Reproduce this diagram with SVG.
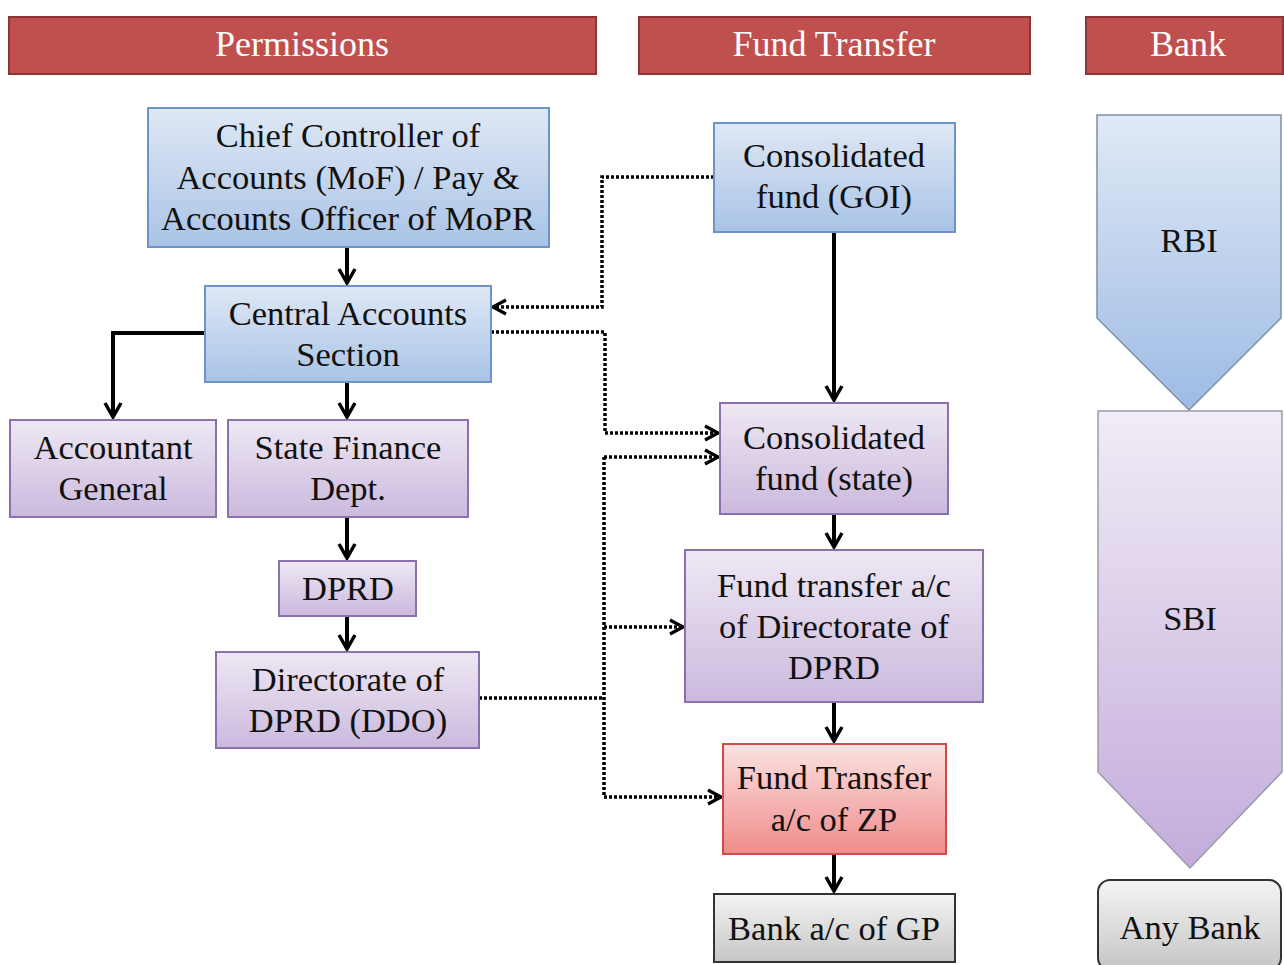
<svg xmlns="http://www.w3.org/2000/svg" width="1284" height="965" viewBox="0 0 1284 965">
<defs>
<linearGradient id="gBlue" x1="0" y1="0" x2="0" y2="1"><stop offset="0" stop-color="#dfe8f5"/><stop offset="1" stop-color="#a9c3e6"/></linearGradient>
<linearGradient id="gPurple" x1="0" y1="0" x2="0" y2="1"><stop offset="0" stop-color="#eee8f3"/><stop offset="1" stop-color="#cbb9de"/></linearGradient>
<linearGradient id="gPink" x1="0" y1="0" x2="0" y2="1"><stop offset="0" stop-color="#fbe2e2"/><stop offset="1" stop-color="#ef8c8a"/></linearGradient>
<linearGradient id="gGray" x1="0" y1="0" x2="0" y2="1"><stop offset="0" stop-color="#f4f4f4"/><stop offset="1" stop-color="#c6c6c6"/></linearGradient>
<linearGradient id="gRBI" x1="0" y1="0" x2="0" y2="1"><stop offset="0" stop-color="#e0e9f6"/><stop offset="1" stop-color="#9dbbe4"/></linearGradient>
<linearGradient id="gSBI" x1="0" y1="0" x2="0" y2="1"><stop offset="0" stop-color="#f1ecf6"/><stop offset="1" stop-color="#c3acdb"/></linearGradient>
<marker id="arr" markerUnits="userSpaceOnUse" markerWidth="22" markerHeight="22" viewBox="0 0 22 22" refX="19" refY="11" orient="auto">
<path d="M5,3 L19,11 L5,19" fill="none" stroke="#000" stroke-width="3.5"/>
</marker>
<marker id="arrD" markerUnits="userSpaceOnUse" markerWidth="22" markerHeight="22" viewBox="0 0 22 22" refX="19" refY="11" orient="auto">
<path d="M6,4 L19,11 L6,18" fill="none" stroke="#000" stroke-width="3.2"/>
</marker>
</defs>
<style>
text{font-family:"Liberation Serif","DejaVu Serif",serif;font-size:34.5px;fill:#111;text-anchor:middle}
.hdr rect{fill:#c0504d;stroke:#8e3432;stroke-width:2}
.hdr text{fill:#fff;font-size:36px}
.blue{fill:url(#gBlue);stroke:#6d94c6;stroke-width:2}
.purple{fill:url(#gPurple);stroke:#8a70ad;stroke-width:2}
.pink{fill:url(#gPink);stroke:#d04a48;stroke-width:2}
.gray{fill:url(#gGray);stroke:#333;stroke-width:2}
.solid{fill:none;stroke:#000;stroke-width:4}
.dot{fill:none;stroke:#000;stroke-width:3.5;stroke-dasharray:3 2}
</style>
<rect width="1284" height="965" fill="#fff"/>

<g id="hdr-permissions" class="hdr"><rect x="9" y="17" width="587" height="57"/><text x="302" y="56">Permissions</text></g>
<g id="hdr-fund" class="hdr"><rect x="639" y="17" width="391" height="57"/><text x="834" y="56">Fund Transfer</text></g>
<g id="hdr-bank" class="hdr"><rect x="1086" y="17" width="197" height="57"/><text x="1188" y="56">Bank</text></g>

<g id="connectors">
<path class="solid" d="M347,247 V283" marker-end="url(#arr)"/>
<path class="solid" d="M205,333 H113 V417" marker-end="url(#arr)"/>
<path class="solid" d="M347,382 V417" marker-end="url(#arr)"/>
<path class="solid" d="M347,517 V558" marker-end="url(#arr)"/>
<path class="solid" d="M347,616 V649" marker-end="url(#arr)"/>
<path class="solid" d="M834,232 V400" marker-end="url(#arr)"/>
<path class="solid" d="M834,514 V547" marker-end="url(#arr)"/>
<path class="solid" d="M834,702 V741" marker-end="url(#arr)"/>
<path class="solid" d="M834,854 V891" marker-end="url(#arr)"/>
<path class="dot" d="M714,177 H602 V307 H493" marker-end="url(#arrD)"/>
<path class="dot" d="M491,332 H605 V433 H718" marker-end="url(#arrD)"/>
<path class="dot" d="M479,698 H604"/>
<path class="dot" d="M604,457 V797"/>
<path class="dot" d="M604,457 H718" marker-end="url(#arrD)"/>
<path class="dot" d="M604,627 H683" marker-end="url(#arrD)"/>
<path class="dot" d="M604,797 H721" marker-end="url(#arrD)"/>
</g>

<g id="chief"><rect class="blue" x="148" y="108" width="401" height="139"/><text x="348" y="147">Chief Controller of</text><text x="348" y="189">Accounts (MoF) / Pay &amp;</text><text x="348" y="230">Accounts Officer of MoPR</text></g>
<g id="cas"><rect class="blue" x="205" y="286" width="286" height="96"/><text x="348" y="325">Central Accounts</text><text x="348" y="366">Section</text></g>
<g id="ag"><rect class="purple" x="10" y="420" width="206" height="97"/><text x="113" y="459">Accountant</text><text x="113" y="500">General</text></g>
<g id="sfd"><rect class="purple" x="228" y="420" width="240" height="97"/><text x="348" y="459">State Finance</text><text x="348" y="500">Dept.</text></g>
<g id="dprd"><rect class="purple" x="279" y="561" width="137" height="55"/><text x="348" y="600">DPRD</text></g>
<g id="ddo"><rect class="purple" x="216" y="652" width="263" height="96"/><text x="348" y="691">Directorate of</text><text x="348" y="732">DPRD (DDO)</text></g>

<g id="goi"><rect class="blue" x="714" y="123" width="241" height="109"/><text x="834" y="167">Consolidated</text><text x="834" y="208">fund (GOI)</text></g>
<g id="state"><rect class="purple" x="720" y="403" width="228" height="111"/><text x="834" y="449">Consolidated</text><text x="834" y="490">fund (state)</text></g>
<g id="ftdprd"><rect class="purple" x="685" y="550" width="298" height="152"/><text x="834" y="597">Fund transfer a/c</text><text x="834" y="638">of Directorate of</text><text x="834" y="679">DPRD</text></g>
<g id="zp"><rect class="pink" x="723" y="744" width="223" height="110"/><text x="834" y="789">Fund Transfer</text><text x="834" y="831">a/c of ZP</text></g>
<g id="gp"><rect class="gray" x="714" y="894" width="241" height="68"/><text x="834" y="940">Bank a/c of GP</text></g>

<g id="rbi"><path d="M1097,115 H1281 V318 L1189,410 L1097,318 Z" fill="url(#gRBI)" stroke="#7f8ea3" stroke-width="1.5"/><text x="1189" y="252">RBI</text></g>
<g id="sbi"><path d="M1098,411 H1282 V772 L1190,868 L1098,772 Z" fill="url(#gSBI)" stroke="#9a9aa8" stroke-width="1.5"/><text x="1190" y="630">SBI</text></g>
<g id="anybank"><rect x="1098" y="880" width="183" height="90" rx="12" ry="12" fill="url(#gGray)" stroke="#333" stroke-width="2"/><text x="1190" y="939">Any Bank</text></g>
</svg>
